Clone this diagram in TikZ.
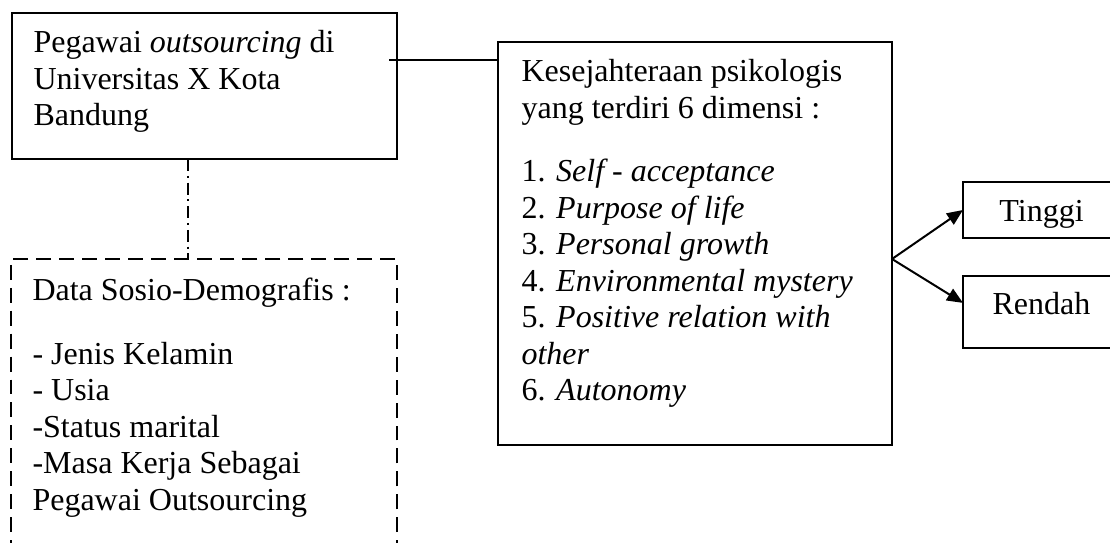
\documentclass[tikz,border=0pt]{standalone}
\usepackage{fontspec}
\setmainfont{Liberation Serif}
\usetikzlibrary{arrows.meta}
\newcommand{\fl}{\rule{0pt}{10pt}}
\begin{document}
\begin{tikzpicture}[x=0.375pt,y=-0.375pt,
  box/.style={draw, line width=0.75pt, inner sep=0pt, outer sep=0pt, anchor=north west, rectangle},
  dbox/.style={box, dash pattern=on 5.6pt off 3pt},
  txt/.style={anchor=north west, inner sep=0pt, align=left, font=\fontsize{12pt}{13.7pt}\selectfont},
  lab/.style={anchor=base, inner sep=0pt, font=\fontsize{12pt}{13.7pt}\selectfont},
  conn/.style={line width=0.75pt},
  arr/.style={conn, -{Triangle[length=6pt,width=5pt]}}]
\useasboundingbox (0,0) rectangle (1110,543);
\clip (0,0) rectangle (1110,543);
% boxes
\node[box, minimum width=144.375pt, minimum height=54.75pt] (b1) at (12,13) {};
\node[box, minimum width=147.75pt, minimum height=151.125pt] (b2) at (498,42) {};
\node[dbox, minimum width=144.75pt, minimum height=112.5pt] (b3) at (11,259) {};
\node[box, minimum width=58.875pt, minimum height=21pt] (b4) at (963,182) {};
\node[box, minimum width=58.875pt, minimum height=27pt] (b5) at (963,276) {};
% texts
\node[txt] (t1) at (33,25.33) {\fl Pegawai \textit{outsourcing} di\\Universitas X Kota\\Bandung};
\node[txt] (t2) at (521,54.33) {\fl Kesejahteraan psikologis\\yang terdiri 6 dimensi :\\[10.2pt]1. \textit{Self - acceptance}\\2. \textit{Purpose of life}\\3. \textit{Personal growth}\\4. \textit{Environmental mystery}\\5. \textit{Positive relation with}\\\textit{other}\\6. \textit{Autonomy}};
\node[txt] (t3) at (32,273.33) {\fl Data Sosio-Demografis :\\[10.2pt]- Jenis Kelamin\\- Usia\\-Status marital\\-Masa Kerja Sebagai\\Pegawai Outsourcing};
\node[lab] (t4) at (1041.5,222) {Tinggi};
\node[lab] (t5) at (1041.5,315) {Rendah};
% connectors
\coordinate (c1) at (389,60);
\draw[conn] (c1) -- (c1 -| b2.west);
\coordinate (dd) at (188,0);
\draw[conn, dash pattern=on 4.5pt off 1.8pt on 0.75pt off 1.8pt] (b1.south -| dd) -- (b3.north -| dd);
\coordinate (fork) at (892,259);
\draw[arr] (fork) -- (b4.west);
\draw[arr] (fork) -- ([yshift=3.4pt]b5.west);
\end{tikzpicture}
\end{document}
